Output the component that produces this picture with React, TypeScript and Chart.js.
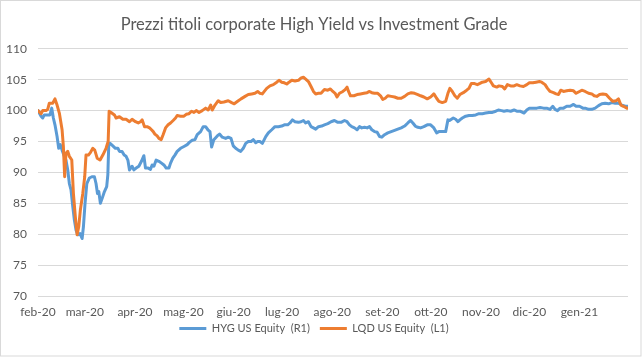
import { useEffect, useRef } from "react";
import { Chart, registerables } from "chart.js";

Chart.register(...registerables);

const TITLE = "Prezzi titoli corporate High Yield vs Investment Grade";

// x positions are calendar-day offsets from the start of the axis (feb-20)
const monthTickDays = [0, 29, 60, 90, 121, 151, 182, 213, 243, 274, 304, 335];
const monthTickLabels = [
  "feb-20", "mar-20", "apr-20", "mag-20", "giu-20", "lug-20",
  "ago-20", "set-20", "ott-20", "nov-20", "dic-20", "gen-21",
];
const lastDay = 365;

const hygDays = [
  0, 1.9, 2.9, 3.9, 6.0, 7.4, 8.5, 9.5, 10.5, 11.8, 12.8, 13.8, 14.9, 16.3, 17.3, 18.4, 19.4, 20.4, 21.5, 22.5,
  23.5, 24.6, 26.0, 27.3, 28.1, 29.1, 30.2, 31.8, 33.3, 34.9, 35.9, 36.8, 37.6, 38.6, 39.7, 41.1, 42.5, 43.2, 43.8, 44.6,
  46.3, 47.9, 49.4, 50.4, 52.0, 53.3, 54.5, 55.6, 56.6, 58.2, 59.3, 60.7, 62.4, 64.0, 65.5, 66.5, 68.2, 69.6, 70.6, 71.7,
  73.1, 74.8, 76.4, 77.9, 79.3, 81.0, 82.0, 83.4, 84.7, 86.1, 88.2, 90.3, 92.3, 93.8, 95.4, 97.1, 98.5, 100.6, 102.2, 103.7,
  105.1, 106.4, 107.4, 108.8, 110.9, 112.3, 114.0, 116.1, 117.7, 119.4, 120.8, 122.3, 123.9, 125.4, 127.0, 128.5, 130.1, 131.8, 133.2, 134.7,
  135.9, 137.3, 138.8, 140.9, 142.5, 144.6, 146.6, 148.7, 150.8, 152.4, 154.5, 155.9, 157.4, 159.0, 161.1, 162.7, 164.2, 165.6, 167.3, 168.9,
  170.4, 171.8, 173.5, 175.5, 177.2, 179.3, 181.3, 183.4, 185.5, 187.5, 189.6, 191.2, 192.7, 194.1, 195.8, 197.4, 198.9, 200.3, 202.0, 203.6,
  205.1, 206.5, 208.2, 209.8, 211.3, 212.7, 214.4, 216.4, 218.5, 220.6, 222.6, 224.7, 226.8, 228.8, 230.5, 231.9, 233.4, 235.0, 236.7, 238.7,
  240.8, 242.9, 244.9, 246.6, 248.0, 250.1, 252.2, 253.6, 254.6, 256.9, 258.4, 259.8, 261.0, 262.5, 264.6, 266.6, 268.7, 270.8, 272.8, 274.9,
  276.9, 279.0, 281.1, 283.2, 284.8, 286.8, 288.3, 290.4, 292.4, 294.5, 296.2, 298.2, 300.7, 302.4, 304.0, 306.5, 308.6, 310.6, 312.7, 314.7,
  316.8, 318.5, 319.9, 321.4, 323.0, 325.1, 327.1, 329.2, 331.3, 332.9, 335.0, 337.1, 338.5, 340.6, 342.6, 344.7, 346.8, 348.8, 350.9, 353.0,
  355.0, 357.1, 359.1, 361.2, 363.3, 365,
];
const hygValues = [
  100.0, 99.1, 98.8, 99.3, 99.3, 99.3, 100.4, 98.8, 97.7, 95.8, 93.9, 94.5, 93.6, 92.6, 92.0, 90.4, 88.2, 87.2, 84.5, 82.3,
  80.7, 79.9, 80.1, 79.3, 81.2, 85.0, 88.2, 89.1, 89.3, 89.3, 88.2, 86.6, 86.9, 85.0, 85.8, 86.9, 87.7, 89.6, 94.7, 94.7,
  94.3, 93.9, 93.9, 93.4, 93.4, 92.8, 92.6, 92.0, 90.4, 91.0, 90.4, 90.7, 91.0, 91.8, 92.7, 90.7, 90.7, 90.5, 91.2, 91.0,
  92.0, 91.8, 91.5, 91.2, 90.7, 90.7, 91.5, 92.3, 92.8, 93.4, 93.9, 94.2, 94.5, 94.9, 95.2, 95.3, 96.1, 96.6, 97.4, 97.4,
  96.9, 96.6, 94.1, 95.3, 95.9, 96.2, 95.7, 95.5, 95.7, 95.5, 94.3, 93.9, 93.6, 93.4, 93.9, 94.7, 95.0, 95.0, 95.3, 94.8,
  95.0, 95.0, 94.7, 95.8, 96.4, 96.9, 97.4, 97.4, 97.5, 97.7, 97.7, 98.0, 98.5, 98.2, 98.1, 98.2, 98.4, 98.0, 98.2, 97.4,
  97.2, 97.0, 97.4, 97.5, 97.7, 97.9, 98.2, 98.4, 98.1, 98.1, 98.4, 98.2, 97.7, 97.4, 97.2, 96.9, 97.4, 97.2, 97.3, 97.2,
  97.4, 96.9, 96.6, 96.5, 95.8, 95.7, 96.1, 96.4, 96.6, 96.8, 97.0, 97.2, 97.5, 98.0, 98.4, 98.0, 97.5, 97.3, 97.2, 97.4,
  97.7, 97.7, 97.2, 96.4, 96.6, 96.6, 96.6, 98.5, 98.4, 98.8, 98.6, 98.2, 98.5, 98.8, 99.1, 99.2, 99.2, 99.3, 99.5, 99.5,
  99.6, 99.7, 99.7, 99.9, 100.1, 100.0, 99.9, 100.0, 99.9, 100.1, 99.9, 99.9, 99.6, 100.1, 100.4, 100.4, 100.4, 100.5, 100.4, 100.4,
  100.2, 100.7, 100.2, 100.0, 100.4, 100.4, 100.7, 100.7, 101.0, 100.7, 100.7, 100.4, 100.4, 100.2, 100.2, 100.4, 100.8, 101.1, 101.2, 101.1,
  101.3, 101.2, 101.2, 100.9, 100.7, 100.7,
];

const lqdDays = [
  0, 1.9, 2.9, 5.0, 6.0, 7.0, 9.1, 10.5, 11.8, 13.2, 14.9, 15.7, 16.5, 17.3, 18.4, 19.4, 20.9, 21.9, 23.1, 24.2,
  25.2, 26.2, 27.7, 28.9, 29.7, 31.2, 32.4, 33.9, 35.1, 36.6, 38.4, 40.1, 42.1, 43.4, 44.0, 45.2, 47.3, 48.3, 50.4, 52.5,
  54.5, 56.6, 58.2, 60.3, 62.0, 63.4, 64.4, 65.9, 67.5, 69.0, 70.2, 71.3, 72.3, 73.7, 74.8, 76.2, 77.4, 78.9, 80.5, 82.0,
  83.6, 85.1, 86.1, 88.2, 90.3, 91.7, 93.4, 95.0, 96.5, 97.9, 99.6, 101.6, 103.7, 105.3, 106.8, 107.8, 109.5, 111.5, 113.0, 115.0,
  117.7, 119.8, 121.4, 123.5, 125.6, 128.1, 130.1, 132.2, 134.2, 135.9, 137.3, 138.8, 140.0, 141.5, 143.5, 145.6, 147.7, 149.1, 150.8, 152.4,
  153.9, 155.3, 157.0, 159.0, 161.1, 162.8, 164.2, 165.6, 167.3, 168.9, 170.4, 171.8, 173.5, 175.1, 177.2, 179.3, 180.9, 182.4, 183.8, 185.0,
  186.5, 188.6, 190.0, 191.2, 192.1, 193.3, 195.4, 197.4, 199.5, 201.6, 203.6, 205.1, 206.5, 208.2, 210.2, 211.9, 213.3, 214.8, 216.4, 218.5,
  220.6, 222.6, 224.7, 226.8, 228.8, 230.9, 233.0, 235.0, 236.7, 238.7, 240.8, 242.9, 244.9, 246.6, 248.0, 250.1, 252.2, 253.6, 254.8, 256.3,
  257.9, 259.4, 261.0, 263.1, 265.2, 266.6, 268.1, 269.7, 271.8, 273.4, 274.9, 276.9, 279.0, 280.5, 281.7, 283.8, 285.2, 287.3, 288.7, 290.4,
  292.4, 294.5, 296.2, 298.2, 300.3, 302.4, 304.0, 306.1, 308.1, 310.2, 311.6, 313.7, 315.2, 316.8, 318.9, 320.5, 322.0, 323.4, 325.1, 327.1,
  329.2, 331.3, 332.9, 335.0, 336.4, 338.5, 340.6, 342.6, 344.1, 345.7, 347.4, 349.4, 351.5, 353.6, 355.6, 357.7, 359.1, 360.6, 362.2, 364.3,
  365,
];
const lqdValues = [
  100.0, 99.5, 100.0, 100.0, 100.2, 101.2, 101.2, 101.9, 100.9, 99.6, 96.9, 94.2, 89.3, 93.1, 93.4, 92.6, 92.0, 86.6, 82.8, 79.9,
  81.2, 83.9, 86.6, 89.3, 92.8, 92.8, 93.2, 93.9, 93.6, 92.3, 92.0, 92.8, 93.9, 95.0, 99.9, 99.7, 99.3, 98.8, 99.0, 98.6,
  98.6, 98.2, 98.6, 98.2, 98.0, 98.2, 98.5, 97.4, 97.4, 97.2, 96.9, 96.6, 96.2, 95.9, 95.5, 95.3, 96.1, 97.2, 97.7, 98.0,
  98.4, 98.8, 99.2, 99.1, 99.1, 99.4, 99.5, 99.9, 99.7, 100.0, 99.7, 100.0, 100.4, 100.1, 100.9, 100.1, 100.9, 101.6, 101.3, 101.4,
  101.6, 101.3, 101.1, 101.5, 101.9, 102.3, 102.6, 102.7, 102.8, 103.1, 102.8, 102.7, 103.1, 103.6, 104.0, 104.2, 104.6, 104.9, 104.6, 104.5,
  104.3, 104.6, 104.9, 104.8, 104.9, 105.3, 105.4, 105.1, 104.7, 103.9, 103.1, 102.7, 102.8, 102.8, 103.4, 103.3, 103.5, 103.1, 102.8, 102.2,
  102.8, 103.1, 103.4, 103.8, 103.1, 102.4, 102.4, 102.6, 102.7, 102.8, 102.9, 103.1, 102.9, 102.8, 102.8, 102.4, 101.8, 102.0, 102.4, 102.3,
  102.2, 102.0, 102.0, 102.3, 102.7, 102.9, 102.8, 102.6, 102.4, 102.2, 101.9, 102.2, 102.7, 102.0, 101.5, 101.3, 101.5, 102.8, 103.6, 103.1,
  102.4, 102.0, 102.6, 102.9, 103.3, 103.6, 104.4, 104.4, 104.2, 104.4, 104.6, 104.7, 105.1, 104.5, 104.0, 103.8, 104.0, 103.9, 103.5, 104.2,
  104.0, 104.0, 104.2, 104.0, 103.9, 104.2, 104.5, 104.5, 104.6, 104.7, 104.6, 104.2, 103.6, 103.1, 102.9, 102.7, 102.6, 103.3, 103.1, 103.2,
  103.3, 103.2, 102.8, 103.1, 103.3, 103.1, 102.8, 102.7, 102.4, 102.3, 102.6, 102.7, 102.6, 102.0, 101.5, 101.6, 101.9, 100.9, 100.7, 100.4,
  100.4,
];

const HYG_LABEL = "HYG US Equity  (R1)";
const LQD_LABEL = "LQD US Equity  (L1)";

const frame = {
  id: "frame",
  beforeDraw(chart: any) {
    const ctx = chart.ctx;
    ctx.save();
    ctx.fillStyle = "#ffffff";
    ctx.fillRect(0, 0, chart.width, chart.height);
    ctx.strokeStyle = "#D9D9D9";
    ctx.lineWidth = 1;
    ctx.strokeRect(0.5, 0.5, chart.width - 2.5, chart.height - 1.5);
    ctx.restore();
  },
};

// pull the legend a little closer to the axis labels, as in the reference
const legendLift = {
  id: "legendLift",
  afterLayout(chart: any) {
    const lg = chart.legend;
    if (lg) {
      lg.top -= 8;
      lg.bottom -= 8;
    }
  },
};

export default function App() {
  const ref = useRef<HTMLCanvasElement>(null);
  useEffect(() => {
    document.body.style.margin = "0";
    const family = "Lato, 'Noto Sans', sans-serif";
    const text = "#595959";
    const chart = new Chart(ref.current as HTMLCanvasElement, {
      type: "line",
      data: {
        datasets: [
          {
            label: HYG_LABEL,
            data: hygDays.map((d, i) => ({ x: d, y: hygValues[i] })),
            borderColor: "#5B9BD5",
            backgroundColor: "#5B9BD5",
            borderWidth: 3,
            pointRadius: 0,
            tension: 0,
            order: 1,
            borderJoinStyle: "round",
            borderCapStyle: "round",
          },
          {
            label: LQD_LABEL,
            data: lqdDays.map((d, i) => ({ x: d, y: lqdValues[i] })),
            borderColor: "#ED7D31",
            backgroundColor: "#ED7D31",
            borderWidth: 3,
            pointRadius: 0,
            tension: 0,
            order: 0,
            borderJoinStyle: "round",
            borderCapStyle: "round",
          },
        ],
      },
      options: {
        responsive: false,
        animation: false,
        layout: { padding: { left: 0, right: 15, top: 0, bottom: 5 } },
        scales: {
          x: {
            type: "linear",
            min: 0,
            max: lastDay,
            grid: { display: false, drawTicks: false, tickLength: 0 },
            border: { display: false },
            afterBuildTicks: (s: any) => {
              s.ticks = monthTickDays.map((v) => ({ value: v }));
            },
            afterFit: (s: any) => {
              s.height = 25;
            },
            ticks: {
              autoSkip: false,
              maxRotation: 0,
              minRotation: 0,
              padding: 9,
              color: text,
              font: { family, size: 12 },
              callback: (v: any) => {
                const i = monthTickDays.indexOf(Number(v));
                return i >= 0 ? monthTickLabels[i] : "";
              },
            },
          },
          y: {
            min: 70,
            max: 110,
            grid: { color: "#D9D9D9", drawTicks: false, lineWidth: 1 },
            border: { display: false },
            afterFit: (s: any) => {
              s.width = 38;
            },
            ticks: { stepSize: 5, padding: 11, color: text, font: { family, size: 12 } },
          },
        },
        plugins: {
          title: {
            display: true,
            text: TITLE,
            color: text,
            font: { family, size: 16.5, weight: "normal" },
            padding: { top: 15, bottom: 14 },
          },
          legend: {
            position: "bottom",
            labels: {
              boxWidth: 27,
              boxHeight: 3,
              color: text,
              font: { family, size: 11 },
              padding: 10,
              sort: (a: any, b: any) => a.datasetIndex - b.datasetIndex,
              generateLabels: (c: any) =>
                Chart.defaults.plugins.legend.labels
                  .generateLabels(c)
                  .map((l: any) => ({ ...l, lineWidth: 0 })),
            },
          },
          tooltip: { enabled: false },
        },
      } as any,
      plugins: [frame, legendLift],
    });
    return () => chart.destroy();
  }, []);
  return <canvas ref={ref} width={643} height={357} style={{ display: "block" }} />;
}
